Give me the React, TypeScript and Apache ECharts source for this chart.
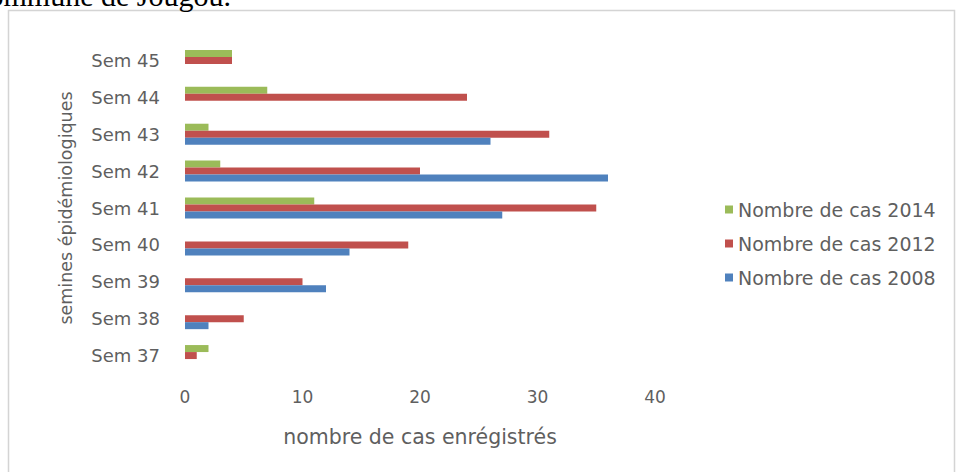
import React, { useEffect, useRef } from "react";
import * as echarts from "echarts";

const categories = ["Sem 37", "Sem 38", "Sem 39", "Sem 40", "Sem 41", "Sem 42", "Sem 43", "Sem 44", "Sem 45"];
const cases2014 = [2, 0, 0, 0, 11, 3, 2, 7, 4];
const cases2012 = [1, 5, 10, 19, 35, 20, 31, 24, 4];
const cases2008 = [0, 2, 12, 14, 27, 36, 26, 0, 0];
const seriesNames = ["Nombre de cas 2014", "Nombre de cas 2012", "Nombre de cas 2008"];
const xTitle = "nombre de cas enrégistrés";
const yTitle = "semines épidémiologiques";
const caption = "commune de Jougou.";

const FONT = "DejaVu Sans";
const GRAY = "#5f5f5f";

export default function App() {
  const ref = useRef<HTMLDivElement>(null);
  useEffect(() => {
    if (!ref.current) return;
    const chart = echarts.init(ref.current, null, { renderer: "svg" });
    const colors = ["#9BBB59", "#C0504D", "#4F81BD"];
    const values = [cases2014, cases2012, cases2008];
    chart.setOption({
      animation: false,
      backgroundColor: "#ffffff",
      grid: { left: 185, top: 42, width: 470, height: 332, containLabel: false },
      legend: {
        orient: "vertical",
        left: 720,
        top: 195,
        itemWidth: 8,
        itemHeight: 8,
        itemGap: 15,
        icon: "rect",
        data: seriesNames,
        textStyle: { fontFamily: FONT, fontSize: 19, color: GRAY },
      },
      xAxis: {
        type: "value",
        min: 0,
        max: 40,
        interval: 10,
        splitLine: { show: false },
        axisLine: { show: false },
        axisTick: { show: false },
        axisLabel: { fontFamily: FONT, fontSize: 17, color: GRAY, margin: 14 },
        name: xTitle,
        nameLocation: "middle",
        nameGap: 52,
        nameTextStyle: { fontFamily: FONT, fontSize: 20.5, color: GRAY },
      },
      yAxis: {
        type: "category",
        data: categories,
        axisLine: { show: false },
        axisTick: { show: false },
        axisLabel: { fontFamily: FONT, fontSize: 18, color: GRAY, margin: 25 },
        name: yTitle,
        nameLocation: "middle",
        nameGap: 110,
        nameRotate: 90,
        nameTextStyle: { fontFamily: FONT, fontSize: 17.5, color: GRAY },
      },
      series: seriesNames.map((name, i) => ({
        name,
        type: "bar",
        data: values[i],
        barWidth: 7,
        barGap: "0%",
        itemStyle: { color: colors[i] },
      })),
      graphic: [
        {
          type: "rect",
          shape: { x: 8.5, y: 10.5, width: 946, height: 470 },
          style: { fill: "none", stroke: "#d4d4d4", lineWidth: 1.5 },
          silent: true,
        },
        {
          type: "text",
          x: 231,
          y: 10,
          style: {
            text: caption,
            fontFamily: "Liberation Serif",
            fontSize: 30,
            fill: "#000000",
            align: "right",
            verticalAlign: "bottom",
          },
          silent: true,
        },
      ],
    });
    return () => chart.dispose();
  }, []);
  return (
    <div
      ref={ref}
      style={{ position: "fixed", left: 0, top: 0, width: 957, height: 472, background: "#fff" }}
    />
  );
}
